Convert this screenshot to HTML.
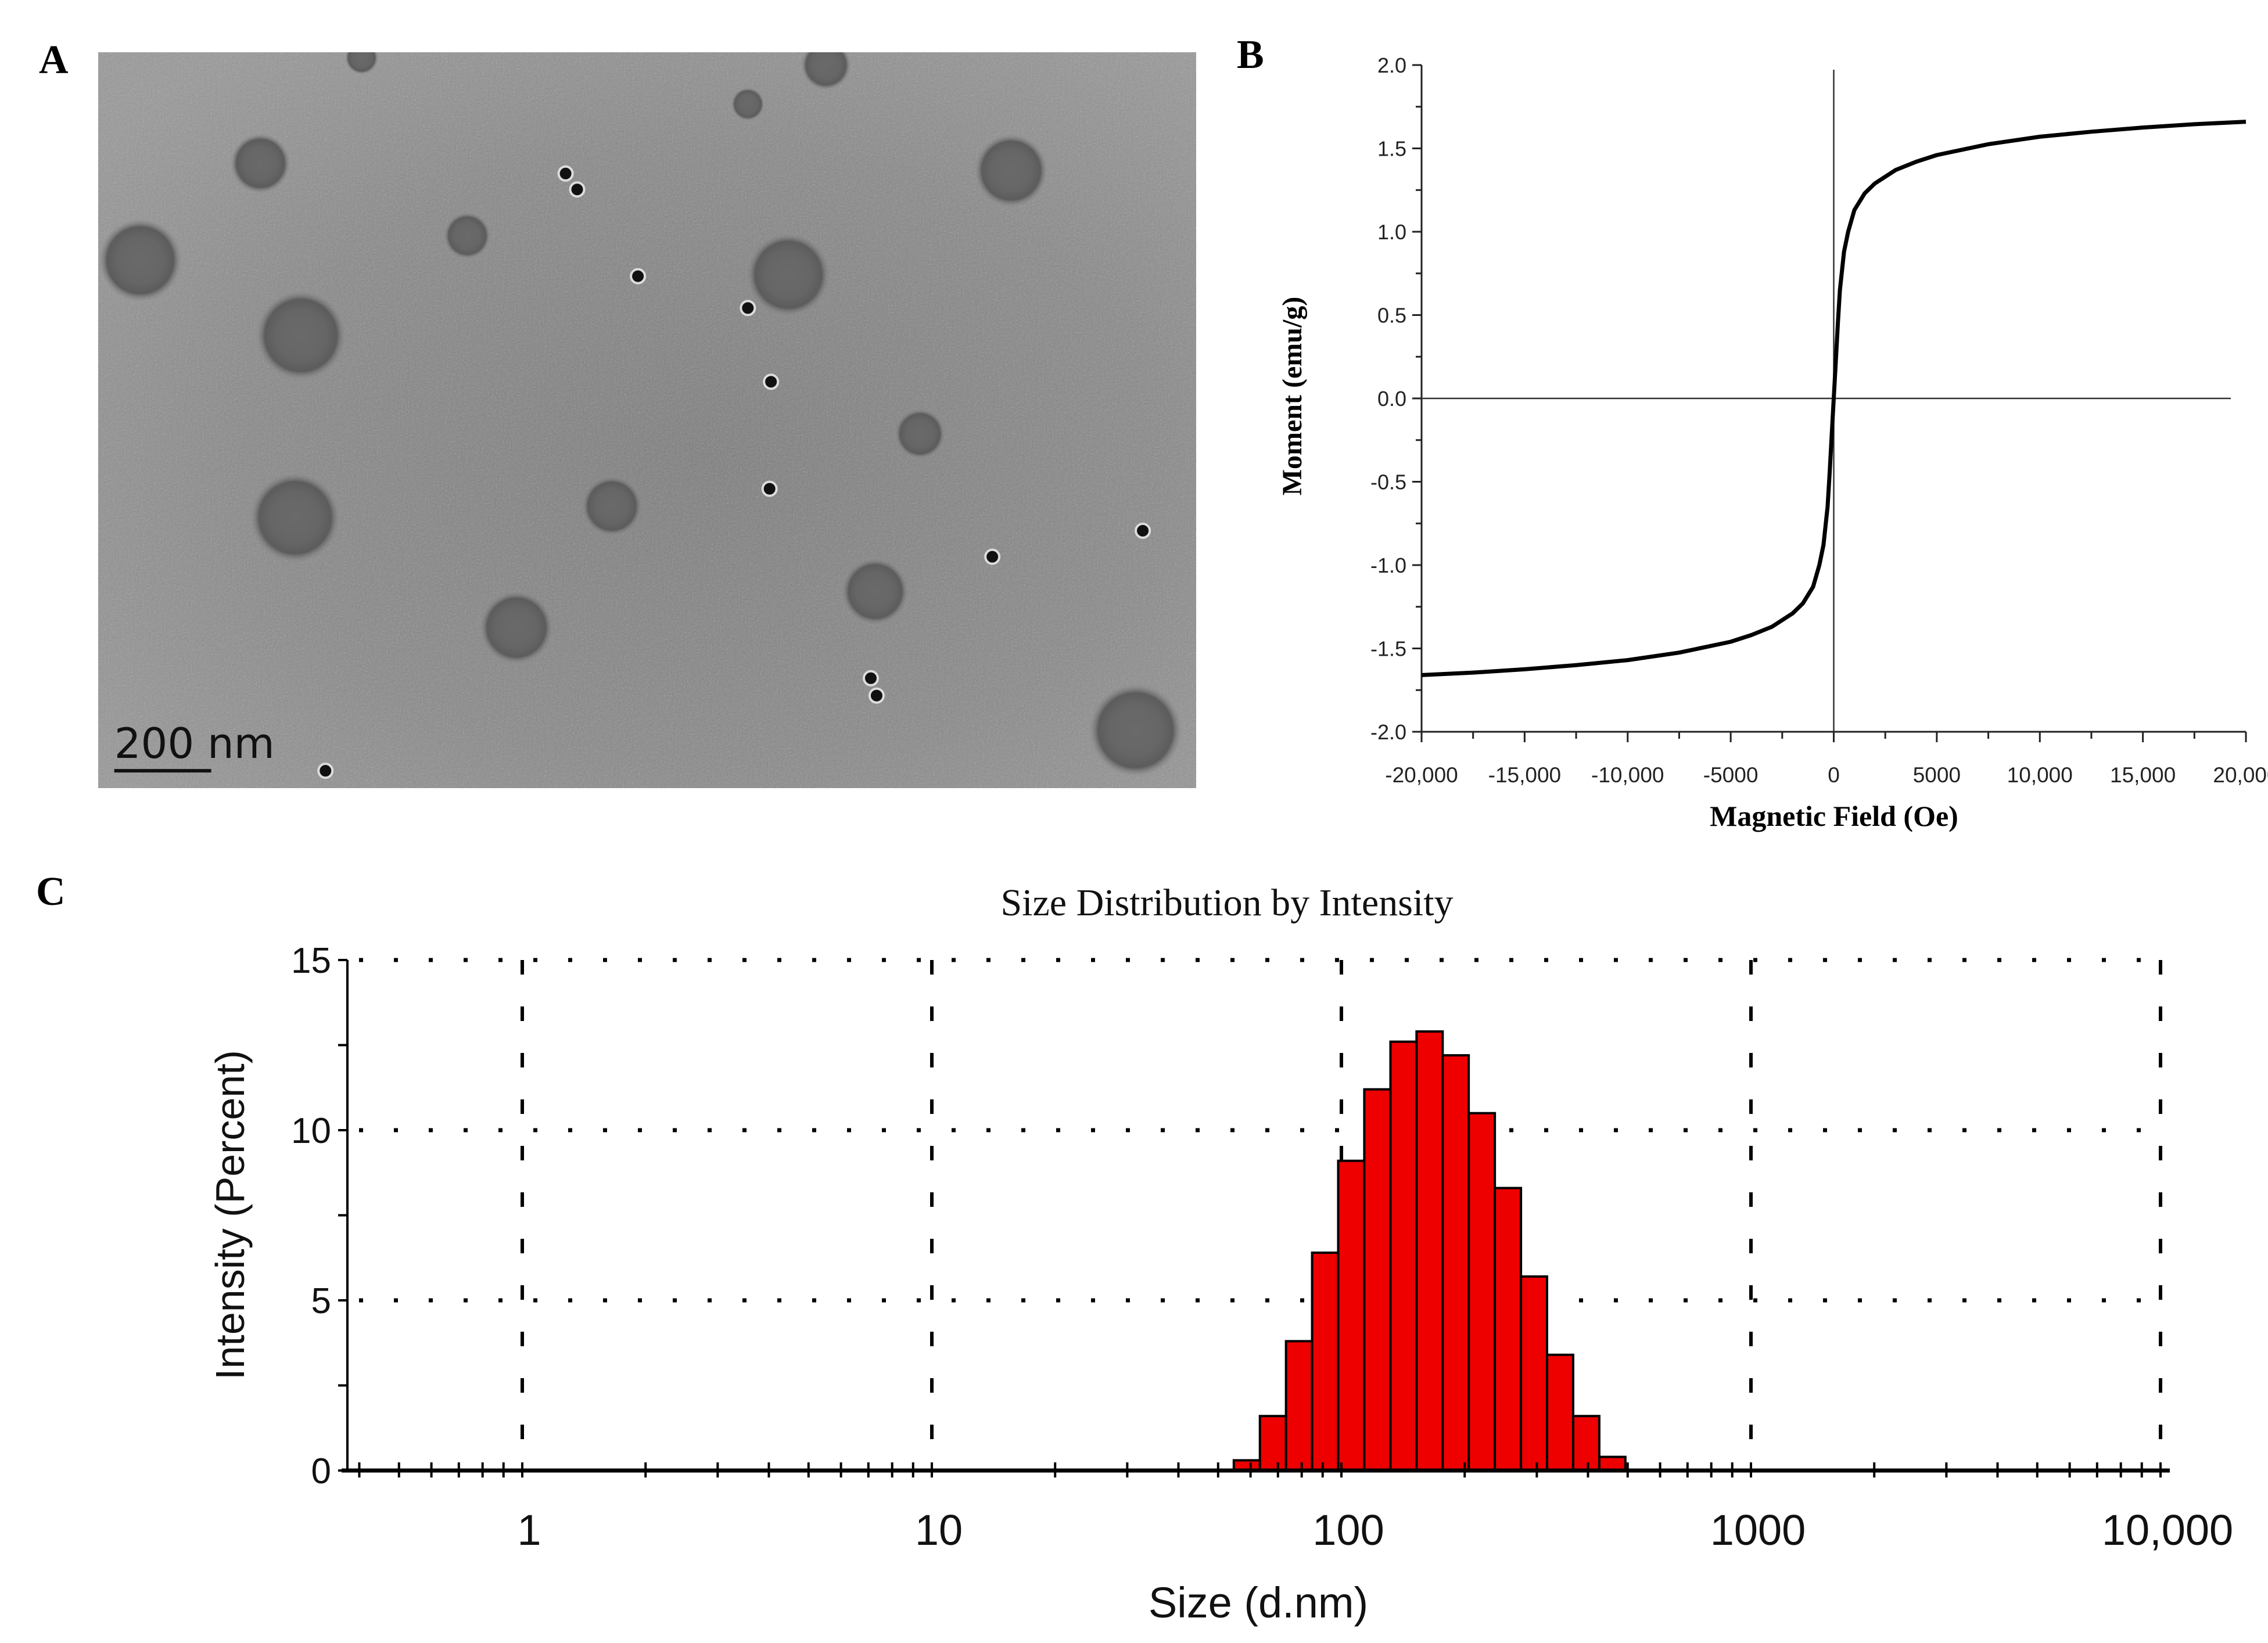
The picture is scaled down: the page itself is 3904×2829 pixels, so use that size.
<!DOCTYPE html>
<html><head><meta charset="utf-8"><style>
html,body{margin:0;padding:0;background:#fff;}
svg{display:block;}
</style></head><body>
<svg id="fig" xmlns="http://www.w3.org/2000/svg" width="3904" height="2829" viewBox="0 0 3904 2829">
<defs>
<radialGradient id="bgGrad" cx="0.55" cy="0.55" r="0.7">
<stop offset="0" stop-color="#7f7f7f"/><stop offset="0.6" stop-color="#8a8a8a"/><stop offset="1" stop-color="#999"/>
</radialGradient>
<radialGradient id="blob" cx="0.5" cy="0.5" r="0.5">
<stop offset="0" stop-color="#6a6a6a"/><stop offset="0.55" stop-color="#666"/><stop offset="0.8" stop-color="#5c5c5c"/><stop offset="1" stop-color="#8a8a8a" stop-opacity="0"/>
</radialGradient>
<clipPath id="clipA"><rect x="169" y="90" width="1890" height="1267"/></clipPath>
<filter id="noise" x="0" y="0" width="1" height="1"><feTurbulence type="fractalNoise" baseFrequency="0.35" numOctaves="2" seed="3"/><feColorMatrix type="saturate" values="0"/><feComponentTransfer><feFuncA type="linear" slope="0.3"/></feComponentTransfer></filter>
</defs>
<g id="panelA"></g>
<g id="panelB"></g>
<g id="panelC"></g>
</svg>
<script>
// ---- Panel B data ----
const fieldOe = [-20000,-17500,-15000,-12500,-10000,-7500,-5000,-4000,-3000,-2000,-1500,-1000,-700,-500,-300,-200,-100,0,100,200,300,500,700,1000,1500,2000,3000,4000,5000,7500,10000,12500,15000,17500,20000];
const momentEmu = [-1.66,-1.645,-1.625,-1.6,-1.57,-1.525,-1.46,-1.42,-1.37,-1.29,-1.23,-1.13,-1.0,-0.88,-0.65,-0.45,-0.22,0,0.22,0.45,0.65,0.88,1.0,1.13,1.23,1.29,1.37,1.42,1.46,1.525,1.57,1.6,1.625,1.645,1.66];
const bYTicks = [-2.0,-1.5,-1.0,-0.5,0.0,0.5,1.0,1.5,2.0];
const bXTicks = [-20000,-15000,-10000,-5000,0,5000,10000,15000,20000];
const bXTickLabels = ["-20,000","-15,000","-10,000","-5000","0","5000","10,000","15,000","20,000"];
// ---- Panel C data ----
const binSizes = [58.77,68.06,78.82,91.28,105.7,122.4,141.8,164.2,190.1,220.2,255.0,295.3,342.0,396.1,458.7];
const intensityPct = [0.3,1.6,3.8,6.4,9.1,11.2,12.6,12.9,12.2,10.5,8.3,5.7,3.4,1.6,0.4];
const cYTicks = [0,5,10,15];
const cXDecades = [1,10,100,1000,10000];
const cXLabels = ["1","10","100","1000","10,000"];

const NS="http://www.w3.org/2000/svg";
function mk(tag,attrs,parent,txt){const e=document.createElementNS(NS,tag);for(const k in attrs)e.setAttribute(k,attrs[k]);if(txt!==undefined)e.textContent=txt;parent.appendChild(e);return e;}

// ================= Panel A =================
const A=document.getElementById('panelA');
let t=mk('text',{x:67,y:126,'font-family':'Liberation Serif, serif','font-weight':'bold','font-size':70},A,'A');


const ax0=169,ay0=90,aw=1890,ah=1267;
const AI=mk('g',{'clip-path':'url(#clipA)'},A);
let r=mk('rect',{x:ax0,y:ay0,width:aw,height:ah,fill:'url(#bgGrad)'},AI);


mk('rect',{x:ax0,y:ay0,width:aw,height:ah,filter:'url(#noise)'},AI);
const S=2.49;
const blobs=[[180,113,18],[97,180,25],[208,232,27],[323,163,14],[545,190,25],[699,118,22],[204,358,27],[423,350,18],[636,300,15],[605,409,20],[357,434,22],[785,505,28],[571,45,15],[517,72,10],[250,40,10]];
blobs.forEach(b=>{const c=mk('circle',{cx:b[0]*S,cy:b[1]*S,r:b[2]*S*1.15,fill:'url(#blob)'},AI);

});
const dots=[[391,120],[399,131],[441,191],[533,264],[532,338],[602,469],[606,481],[686,385],[790,367],[225,533],[517,213]];
dots.forEach(d=>{mk('circle',{cx:d[0]*S,cy:d[1]*S,r:12,fill:'#111',stroke:'#ddd','stroke-width':4},AI);});
let sb=mk('line',{x1:79*S,y1:533*S,x2:146*S,y2:533*S,stroke:'#111','stroke-width':6},A);


t=mk('text',{x:79*S,y:524*S,'font-family':'DejaVu Sans, sans-serif','font-size':72,fill:'#111'},A,'200 nm');



// ================= Panel B =================
const B=document.getElementById('panelB');
t=mk('text',{x:2129,y:117,'font-family':'Liberation Serif, serif','font-weight':'bold','font-size':70},B,'B');


const bx0=2447,bx1=3866,byTop=112,byBot=1260;
const bx=v=>bx0+(v+20000)/40000*(bx1-bx0);
const by=v=>byBot-(v+2)/4*(byBot-byTop);
mk('line',{x1:bx0,y1:byTop,x2:bx0,y2:byBot,stroke:'#222','stroke-width':3},B);
mk('line',{x1:bx0,y1:byBot,x2:bx1,y2:byBot,stroke:'#222','stroke-width':3},B);
for(let v=-2;v<=2.001;v+=0.25){const maj=Math.abs(v*2-Math.round(v*2))<1e-6;mk('line',{x1:bx0-(maj?16:10),y1:by(v),x2:bx0,y2:by(v),stroke:'#222','stroke-width':3},B);}
bYTicks.forEach(v=>{const l=mk('text',{x:bx0-26,y:by(v)+13,'text-anchor':'end','font-family':'Liberation Sans, sans-serif','font-size':36,fill:'#222'},B,v.toFixed(1));

});
for(let v=-20000;v<=20000;v+=2500){mk('line',{x1:bx(v),y1:byBot,x2:bx(v),y2:byBot+(v%5000===0?18:12),stroke:'#222','stroke-width':3},B);}
bXTicks.forEach((v,i)=>{const l=mk('text',{x:bx(v),y:1347,'text-anchor':'middle','font-family':'Liberation Sans, sans-serif','font-size':37,fill:'#222'},B,bXTickLabels[i]);

});
let zl=mk('line',{x1:bx0,y1:by(0),x2:3840,y2:by(0),stroke:'#333','stroke-width':2.5},B);


let vl=mk('line',{x1:bx(0),y1:120,x2:bx(0),y2:byBot,stroke:'#333','stroke-width':2.5},B);


let dpath=fieldOe.map((f,i)=>(i?'L':'M')+bx(f).toFixed(1)+','+by(momentEmu[i]).toFixed(1)).join(' ');
let curve=mk('path',{d:dpath,fill:'none',stroke:'#000','stroke-width':7,'stroke-linejoin':'round'},B);


t=mk('text',{x:2240,y:682,'text-anchor':'middle','font-family':'Liberation Serif, serif','font-weight':'bold','font-size':48,transform:'rotate(-90 2240 682)'},B,'Moment (emu/g)');


t=mk('text',{x:3157,y:1422,'text-anchor':'middle','font-family':'Liberation Serif, serif','font-weight':'bold','font-size':50},B,'Magnetic Field (Oe)');



// ================= Panel C =================
const C=document.getElementById('panelC');
t=mk('text',{x:62,y:1558,'font-family':'Liberation Serif, serif','font-weight':'bold','font-size':70},C,'C');


t=mk('text',{x:2112,y:1576,'text-anchor':'middle','font-family':'Liberation Serif, serif','font-size':66,fill:'#111'},C,'Size Distribution by Intensity');


const cx0=598,cx1=3735,cyTop=1653,cyBot=2532;
const dec=705, x1pos=899;
const cx=v=>x1pos+Math.log10(v)*dec;
const cy=v=>cyBot-v/15*(cyBot-cyTop);
[5,10,15].forEach(v=>{const g=mk('line',{x1:cx0+20,y1:cy(v),x2:cx1,y2:cy(v),stroke:'#000','stroke-width':7,'stroke-dasharray':'7 53'},C);

});
cXDecades.forEach(v=>{const g=mk('line',{x1:cx(v),y1:cyTop,x2:cx(v),y2:cyBot-10,stroke:'#000','stroke-width':6,'stroke-dasharray':'25 55'},C);

});
const halfW=Math.log10(binSizes[1]/binSizes[0])/2;
binSizes.forEach((s,i)=>{const xl=cx(s/Math.pow(10,halfW)),xr=cx(s*Math.pow(10,halfW));
const b=mk('rect',{x:xl,y:cy(intensityPct[i]),width:xr-xl,height:cyBot-cy(intensityPct[i]),fill:'#ee0000',stroke:'#000','stroke-width':4},C);

});
mk('line',{x1:cx0,y1:cyTop,x2:cx0,y2:cyBot,stroke:'#000','stroke-width':4},C);
let xa=mk('line',{x1:cx0-10,y1:cyBot,x2:cx1,y2:cyBot,stroke:'#000','stroke-width':7},C);


for(let v=0;v<=15;v+=2.5){mk('line',{x1:cx0-16,y1:cy(v),x2:cx0,y2:cy(v),stroke:'#000','stroke-width':4},C);}
cYTicks.forEach(v=>{const l=mk('text',{x:570,y:cy(v)+22,'text-anchor':'end','font-family':'Liberation Sans, sans-serif','font-size':62,fill:'#111'},C,String(v));

});
for(let d=0.1;d<10000;d*=10){for(let m=1;m<10;m++){const v=d*m;const x=cx(v);if(x<cx0+5||x>cx1)continue;mk('line',{x1:x,y1:cyBot-14,x2:x,y2:cyBot+12,stroke:'#000','stroke-width':4},C);}}
mk('line',{x1:cx(10000),y1:cyBot-14,x2:cx(10000),y2:cyBot+12,stroke:'#000','stroke-width':4},C);
cXDecades.forEach((v,i)=>{const l=mk('text',{x:cx(v)+12,y:2660,'text-anchor':'middle','font-family':'Liberation Sans, sans-serif','font-size':74,fill:'#111'},C,cXLabels[i]);

});
t=mk('text',{x:2166,y:2785,'text-anchor':'middle','font-family':'Liberation Sans, sans-serif','font-size':74,fill:'#111'},C,'Size (d.nm)');


t=mk('text',{x:420,y:2092,'text-anchor':'middle','font-family':'Liberation Sans, sans-serif','font-size':70,fill:'#111',transform:'rotate(-90 420 2092)'},C,'Intensity (Percent)');


</script>
</body></html>
